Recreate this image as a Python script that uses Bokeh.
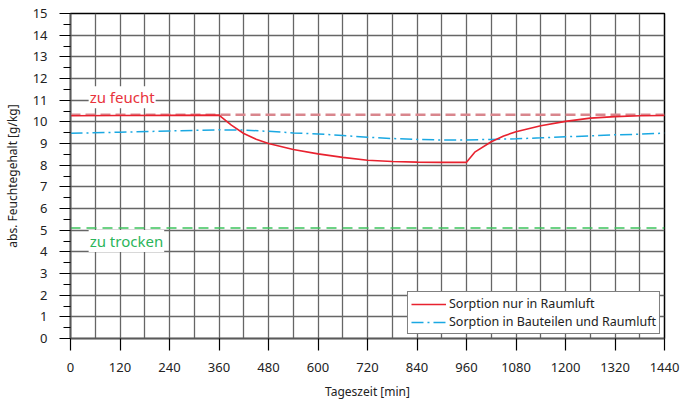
from bokeh.plotting import figure
from bokeh.models import FixedTicker, Legend, LegendItem, Label
from bokeh.embed import file_html
from bokeh.resources import INLINE

# --- data ---
t_red = [0, 120, 240, 360, 390, 420, 450, 480, 540, 600, 660, 720, 780, 840, 900, 960,
         980, 1020, 1050, 1080, 1140, 1200, 1260, 1320, 1380, 1440]
v_red = [10.28, 10.29, 10.30, 10.31, 9.85, 9.46, 9.20, 9.00, 8.72, 8.52, 8.36, 8.23, 8.17, 8.14, 8.13, 8.13,
         8.60, 9.08, 9.35, 9.54, 9.82, 10.02, 10.17, 10.24, 10.28, 10.29]
t_blue = [0, 120, 240, 360, 420, 480, 540, 600, 660, 720, 780, 840, 900, 960,
          1020, 1080, 1140, 1200, 1260, 1320, 1380, 1440]
v_blue = [9.47, 9.52, 9.58, 9.63, 9.62, 9.56, 9.49, 9.44, 9.37, 9.29, 9.23, 9.19, 9.16, 9.16,
          9.19, 9.22, 9.26, 9.31, 9.35, 9.40, 9.43, 9.48]
limit_high = 10.33
limit_low = 5.1
x_range = (0, 1440)
y_range = (0, 15)
x_ticks = list(range(0, 1441, 120))
x_grid = list(range(0, 1441, 60))
y_ticks = list(range(0, 16))
y_minor = [i + 0.5 for i in range(0, 15)]
label_red = "Sorption nur in Raumluft"
label_blue = "Sorption in Bauteilen und Raumluft"
x_title = "Tageszeit [min]"
y_title = "abs. Feuchtegehalt [g/kg]"

FONT = "Noto Sans"

p = figure(width=680, height=403, x_range=x_range, y_range=y_range,
           output_backend="svg", toolbar_location=None,
           min_border_left=70, min_border_right=16, min_border_top=13, min_border_bottom=65)
p.background_fill_color = "white"
p.border_fill_color = "white"
p.outline_line_color = "black"
p.outline_line_width = 1.5

# grids
p.xgrid.ticker = FixedTicker(ticks=x_grid)
p.ygrid.ticker = FixedTicker(ticks=y_ticks)
for g in (p.xgrid, p.ygrid):
    g.grid_line_color = "#666666"
    g.grid_line_width = 1.3

# axes
p.xaxis.ticker = FixedTicker(ticks=x_ticks)
p.yaxis.ticker = FixedTicker(ticks=y_ticks, minor_ticks=y_minor)
for ax in (p.xaxis, p.yaxis):
    ax.axis_line_color = "#5a5a5a"
    ax.axis_line_width = 1.6
    ax.major_tick_line_color = "black"
    ax.major_tick_line_width = 1.2
    ax.major_tick_in = 0
    ax.minor_tick_in = 0
    ax.major_label_text_font = FONT
    ax.major_label_text_font_size = "13px"
    ax.major_label_text_color = "#222222"
    ax.axis_label_text_font = FONT
    ax.axis_label_text_font_size = "12px"
    ax.axis_label_text_font_style = "normal"
    ax.axis_label_text_color = "#222222"
p.xaxis.major_tick_out = 12
p.xaxis.minor_tick_out = 0
p.xaxis.major_label_standoff = 12
p.xaxis.axis_label = x_title
p.xaxis.axis_label_standoff = 8
p.yaxis.major_tick_out = 11
p.yaxis.minor_tick_out = 7
p.yaxis.minor_tick_line_color = "black"
p.yaxis.minor_tick_line_width = 1.2
p.yaxis.major_label_standoff = 12
p.yaxis.axis_label = y_title
p.yaxis.axis_label_standoff = 9

# reference lines
p.line(list(x_range), [limit_high, limit_high], line_color="#d9868d", line_width=2.5, line_dash="10 5")
p.line(list(x_range), [limit_low, limit_low], line_color="#3cc35c", line_width=1.5, line_dash="10 6")

# series
rb = p.line(t_blue, v_blue, line_color="#1aa8e2", line_width=1.5, line_dash="12 4 2 4")
rr = p.line(t_red, v_red, line_color="#e8222f", line_width=1.6)

p.add_layout(Label(x=44, y=11.13, text="zu feucht", text_color="#e8333c",
                   text_font=FONT, text_font_size="15px", text_baseline="alphabetic",
                   background_fill_color="white", padding=1))
p.add_layout(Label(x=44, y=4.5, text="zu trocken", text_color="#2bb55a",
                   text_font=FONT, text_font_size="15px", text_baseline="alphabetic",
                   background_fill_color="white", padding=1))

legend = Legend(items=[LegendItem(label=label_red, renderers=[rr]),
                       LegendItem(label=label_blue, renderers=[rb])],
                location="bottom_right", margin=4)
legend.border_line_color = "black"
legend.border_line_width = 1
legend.background_fill_alpha = 1
legend.padding = 3
legend.spacing = 1
legend.label_text_font = FONT
legend.label_text_font_size = "12.5px"
legend.label_text_color = "#222222"
legend.glyph_width = 35
legend.glyph_height = 16
legend.label_height = 16
legend.label_standoff = 3
p.add_layout(legend)

open("out.html", "w").write(file_html(p, INLINE))
